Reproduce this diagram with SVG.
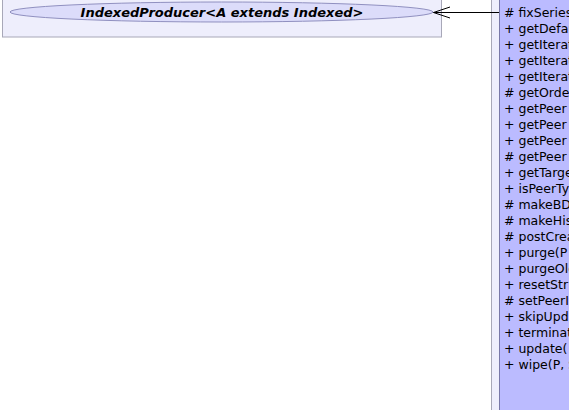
<svg xmlns="http://www.w3.org/2000/svg" width="569" height="410" viewBox="0 0 569 410">
<style>
.pkg{fill:#eeeefc;stroke:#a8a8b8;stroke-width:1}
.ell{fill:#dcdcfa;stroke:#9090c0;stroke-width:1}
.title{font-family:"DejaVu Sans",sans-serif;font-size:13px;font-weight:bold;font-style:italic;fill:#000}
.cls{fill:#bbbbff;stroke:#7878a8;stroke-width:1}
.m{font-family:"DejaVu Sans",sans-serif;font-size:12.5px;fill:#000}
.edge{stroke:#000;stroke-width:1;fill:none}
</style>
<rect width="569" height="410" fill="#fff"/>
<g id="indexedProducer">
<rect class="pkg" x="2.5" y="-10" width="439" height="47"/>
<ellipse class="ell" cx="221.5" cy="12" rx="211.5" ry="10"/>
<text class="title" x="222" y="17" text-anchor="middle">IndexedProducer&lt;A extends Indexed&gt;</text>
</g>
<g id="peerClass">
<rect class="pkg" x="491.5" y="-10" width="100" height="430"/>
<rect class="cls" x="499.5" y="-10" width="100" height="430"/>
<text class="m" x="504" y="16.5">
<tspan x="504" y="16.5"># fixSeries</tspan>
<tspan x="504" dy="16">+ getDefault</tspan>
<tspan x="504" dy="16">+ getIterator</tspan>
<tspan x="504" dy="16">+ getIterator</tspan>
<tspan x="504" dy="16">+ getIterator</tspan>
<tspan x="504" dy="16"># getOrder</tspan>
<tspan x="504" dy="16">+ getPeer</tspan>
<tspan x="504" dy="16">+ getPeer</tspan>
<tspan x="504" dy="16">+ getPeer</tspan>
<tspan x="504" dy="16"># getPeer</tspan>
<tspan x="504" dy="16">+ getTarget</tspan>
<tspan x="504" dy="16">+ isPeerType</tspan>
<tspan x="504" dy="16"># makeBD</tspan>
<tspan x="504" dy="16"># makeHist</tspan>
<tspan x="504" dy="16"># postCreate</tspan>
<tspan x="504" dy="16">+ purge(P</tspan>
<tspan x="504" dy="16">+ purgeOld</tspan>
<tspan x="504" dy="16">+ resetStr</tspan>
<tspan x="504" dy="16"># setPeerI</tspan>
<tspan x="504" dy="16">+ skipUpd</tspan>
<tspan x="504" dy="16">+ terminat</tspan>
<tspan x="504" dy="16">+ update(</tspan>
<tspan x="504" dy="16">+ wipe(P, S</tspan>
</text>
</g>
<g id="connectors">
<path class="edge" d="M499 12.5H433.5"/>
<path class="edge" d="M450 7L433.5 12.5L450 18"/>
</g>
</svg>
